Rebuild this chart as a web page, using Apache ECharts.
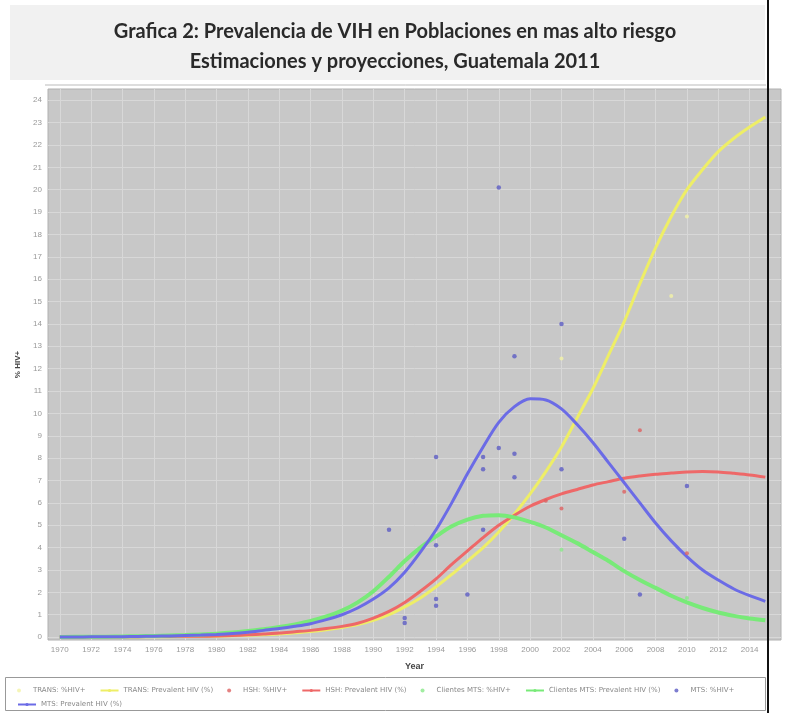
<!DOCTYPE html>
<html>
<head>
<meta charset="utf-8">
<script src="https://cdn.jsdelivr.net/npm/echarts@6/dist/echarts.min.js"></script>
<style>
  html, body { margin: 0; padding: 0; background: #fff; }
  #chart { width: 790px; height: 713px; }
</style>
</head>
<body>
<div id="chart"></div>
<script>
// years of the modelled curves
const years = [];
for (let y = 1970; y <= 2015; y++) years.push(y);

// Prevalent HIV (%) curves, one value per year 1970..2015
const transPrev = [0, 0, 0.01, 0.01, 0.01, 0.02, 0.02, 0.02, 0.03, 0.03, 0.04, 0.06, 0.08, 0.11, 0.14, 0.19, 0.25, 0.33, 0.43, 0.56, 0.75, 1.0, 1.35, 1.75, 2.25, 2.8, 3.4, 4.0, 4.7, 5.5, 6.4, 7.4, 8.5, 9.8, 11.1, 12.6, 14.1, 15.8, 17.4, 18.8, 20.0, 20.9, 21.7, 22.3, 22.8, 23.25];
const hshPrev   = [0, 0, 0.01, 0.01, 0.02, 0.02, 0.03, 0.03, 0.04, 0.04, 0.05, 0.07, 0.1, 0.14, 0.18, 0.24, 0.3, 0.38, 0.48, 0.62, 0.85, 1.15, 1.55, 2.05, 2.6, 3.25, 3.85, 4.45, 5.0, 5.45, 5.85, 6.15, 6.4, 6.6, 6.8, 6.95, 7.1, 7.2, 7.28, 7.33, 7.38, 7.4, 7.38, 7.32, 7.25, 7.15];
const cliPrev   = [0, 0.01, 0.01, 0.02, 0.03, 0.04, 0.05, 0.07, 0.09, 0.12, 0.15, 0.2, 0.27, 0.35, 0.45, 0.57, 0.72, 0.92, 1.18, 1.55, 2.05, 2.7, 3.4, 4.0, 4.5, 4.95, 5.25, 5.42, 5.45, 5.35, 5.15, 4.9, 4.55, 4.2, 3.8, 3.4, 2.95, 2.55, 2.2, 1.85, 1.55, 1.3, 1.1, 0.95, 0.83, 0.75];
const mtsPrev   = [0, 0, 0.01, 0.01, 0.02, 0.03, 0.04, 0.05, 0.07, 0.09, 0.12, 0.16, 0.22, 0.3, 0.38, 0.48, 0.6, 0.78, 1.0, 1.3, 1.7, 2.2, 2.9, 3.8, 4.8, 6.0, 7.3, 8.5, 9.6, 10.3, 10.65, 10.6, 10.2, 9.5, 8.7, 7.8, 6.9, 6.0, 5.1, 4.3, 3.6, 3.0, 2.55, 2.15, 1.85, 1.6];

// observed %HIV+ points [year, value]
const transObs = [[2002, 12.45], [2009, 15.25], [2010, 18.8]];
const hshObs   = [[2001, 6.1], [2002, 5.75], [2006, 6.5], [2007, 9.25], [2010, 3.75]];
const cliObs   = [[2002, 3.9], [2010, 1.75]];
const mtsObs   = [[1991, 4.8], [1992, 0.85], [1992, 0.63], [1994, 8.05], [1994, 4.1], [1994, 1.7], [1994, 1.4],
                  [1996, 1.9], [1997, 8.05], [1997, 7.5], [1997, 4.8], [1998, 20.1], [1998, 8.45],
                  [1999, 12.55], [1999, 8.2], [1999, 7.15], [2002, 14.0], [2002, 7.5], [2006, 4.4],
                  [2007, 1.9], [2010, 6.75]];

// tick labels
const xTicks = [];
for (let y = 1970; y <= 2014; y += 2) xTicks.push(y);
const yTicks = [];
for (let v = 0; v <= 24; v++) yTicks.push(v);

const legendRow1 = ['TRANS: %HIV+', 'TRANS: Prevalent HIV (%)', 'HSH: %HIV+', 'HSH: Prevalent HIV (%)',
                    'Clientes MTS: %HIV+', 'Clientes MTS: Prevalent HIV (%)', 'MTS: %HIV+'];
const legendRow2 = ['MTS: Prevalent HIV (%)'];

const pair = arr => years.map((y, i) => [y, arr[i]]);

const myChart = echarts.init(document.getElementById('chart'));

const lineSeries = (name, data, color, width) => ({
  name, type: 'line', data: pair(data), symbol: 'none', smooth: 0.3,
  lineStyle: {color, width}, itemStyle: {color}, z: 3
});
const dotSeries = (name, data, color, size) => ({
  name, type: 'scatter', data, symbol: 'circle', symbolSize: size,
  itemStyle: {color}, z: 4
});
const legendBase = {
  itemWidth: 18, itemHeight: 4, itemGap: 14,
  textStyle: {fontSize: 7, color: '#888', fontFamily: 'DejaVu Sans'}
};

myChart.setOption({
  animation: false,
  backgroundColor: '#fff',
  title: {
    text: 'Grafica 2: Prevalencia de VIH en Poblaciones en mas alto riesgo\nEstimaciones y proyecciones, Guatemala 2011',
    left: 'center',
    top: 12,
    textStyle: {fontFamily: 'Lato', fontWeight: 'bold', fontSize: 20, color: '#2a2a2a', lineHeight: 30}
  },
  graphic: [
    {type: 'rect', shape: {x: 10, y: 5, width: 755, height: 75}, style: {fill: '#f1f1f1'}, z: -10},
    {type: 'line', shape: {x1: 45, y1: 85, x2: 766, y2: 85}, style: {stroke: '#bbb', lineWidth: 1}, z: -10},
    {type: 'rect', shape: {x: 5.5, y: 677.5, width: 760, height: 33}, style: {fill: '#fff', stroke: '#999', lineWidth: 1}, z: -10},
    {type: 'line', shape: {x1: 768, y1: 0, x2: 768, y2: 713}, style: {stroke: '#111', lineWidth: 2}, z: 100}
  ],
  legend: [
    Object.assign({left: 12, top: 682, data: legendRow1}, legendBase),
    Object.assign({left: 12, top: 696, data: legendRow2}, legendBase)
  ],
  grid: {left: 48, right: 9, top: 89, bottom: 73, show: true, backgroundColor: '#c8c8c8', borderColor: '#b0b0b0', borderWidth: 1},
  xAxis: {
    type: 'value', min: 1969.25, max: 2016,
    name: 'Year', nameLocation: 'middle', nameGap: 22,
    nameTextStyle: {fontWeight: 'bold', fontSize: 9, color: '#444'},
    axisLine: {show: false},
    axisTick: {show: false, customValues: xTicks},
    axisLabel: {customValues: xTicks, fontSize: 8, color: '#999', margin: 6, formatter: v => String(v)},
    splitLine: {show: true, lineStyle: {color: '#d8d8d8', width: 1}}
  },
  yAxis: {
    type: 'value', min: -0.13, max: 24.5,
    name: '% HIV+', nameLocation: 'middle', nameGap: 18, nameRotate: 90,
    nameTextStyle: {fontWeight: 'bold', fontSize: 8, color: '#444'},
    axisLine: {show: false},
    axisTick: {show: false, customValues: yTicks},
    axisLabel: {customValues: yTicks, fontSize: 8, color: '#999', margin: 6},
    splitLine: {show: true, lineStyle: {color: '#d8d8d8', width: 1}}
  },
  series: [
    dotSeries('TRANS: %HIV+', transObs, '#f2f2a6', 4),
    lineSeries('TRANS: Prevalent HIV (%)', transPrev, '#eeee66', 3),
    dotSeries('HSH: %HIV+', hshObs, '#dd6262', 4),
    lineSeries('HSH: Prevalent HIV (%)', hshPrev, '#ee6868', 3),
    dotSeries('Clientes MTS: %HIV+', cliObs, '#8ae88a', 4),
    lineSeries('Clientes MTS: Prevalent HIV (%)', cliPrev, '#78ea78', 4),
    dotSeries('MTS: %HIV+', mtsObs, '#5c5cc4', 4.5),
    lineSeries('MTS: Prevalent HIV (%)', mtsPrev, '#6b6be6', 3)
  ]
});
</script>
</body>
</html>
